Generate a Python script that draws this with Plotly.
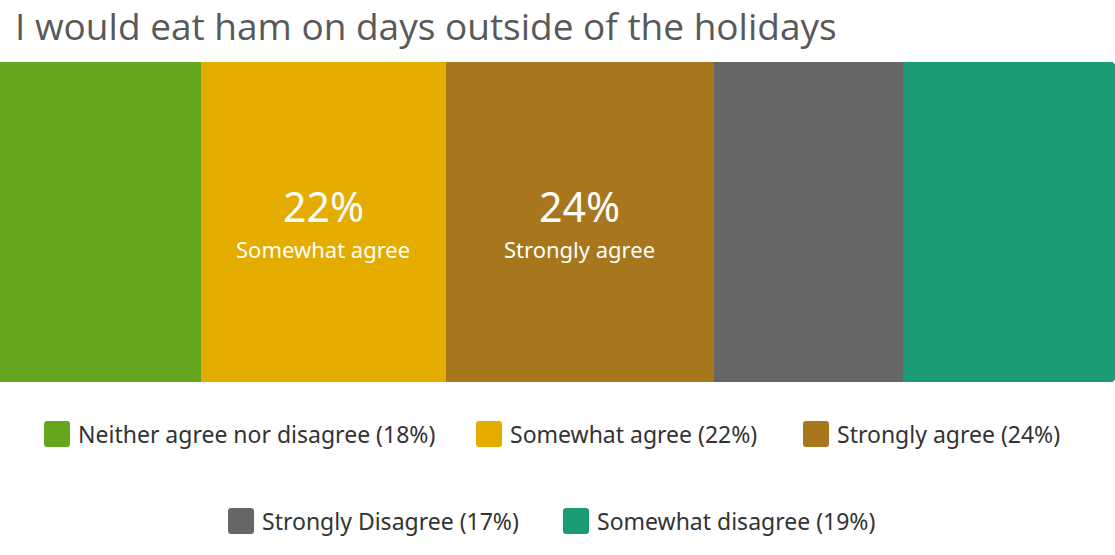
import plotly.graph_objects as go

# Survey responses, in stacking order
categories = ["Neither agree nor disagree", "Somewhat agree", "Strongly agree",
              "Strongly Disagree", "Somewhat disagree"]
percents = [18, 22, 24, 17, 19]
colors = ["#65A61F", "#E5AC00", "#A7761D", "#666666", "#1B9C77"]
# segments that carry an in-bar label
labelled = ["Somewhat agree", "Strongly agree"]

title_text = "I would eat ham on days outside of the holidays"

W, H = 1115, 555
BAR_TOP, BAR_BOTTOM = 62, 382
plot_h = BAR_BOTTOM - BAR_TOP


def rounded_square(x0, y0, size, r):
    """SVG path (pixel coords converted to paper) for a rounded legend swatch."""
    def px(x):
        return x / W

    def py(y):
        return (BAR_BOTTOM - y) / plot_h
    x1, y1 = x0 + size, y0 + size
    return (f"M {px(x0 + r)},{py(y0)} L {px(x1 - r)},{py(y0)} "
            f"Q {px(x1)},{py(y0)} {px(x1)},{py(y0 + r)} L {px(x1)},{py(y1 - r)} "
            f"Q {px(x1)},{py(y1)} {px(x1 - r)},{py(y1)} L {px(x0 + r)},{py(y1)} "
            f"Q {px(x0)},{py(y1)} {px(x0)},{py(y1 - r)} L {px(x0)},{py(y0 + r)} "
            f"Q {px(x0)},{py(y0)} {px(x0 + r)},{py(y0)} Z")


fig = go.Figure()
for cat, pct, col in zip(categories, percents, colors):
    fig.add_trace(go.Bar(
        x=[pct], y=["q"], orientation="h", name=cat,
        marker=dict(color=col, line=dict(width=0)),
        showlegend=False, hoverinfo="skip", width=1,
    ))

annotations = []
shapes = []

# in-bar labels at segment centres: big percentage over the category name
cum = 0
for cat, pct in zip(categories, percents):
    if cat in labelled:
        xc = cum + pct / 2
        annotations.append(dict(x=xc, y=0, xref="x", yref="y", text=f"{pct}%",
                                showarrow=False, yshift=16,
                                font=dict(family="Noto Sans", size=41, color="white")))
        annotations.append(dict(x=xc, y=0, xref="x", yref="y", text=cat,
                                showarrow=False, yshift=-27,
                                font=dict(family="Noto Sans", size=22, color="white")))
    cum += pct

# legend laid out in two centred rows
rows = [[0, 1, 2], [3, 4]]
row_left = [[44, 476, 803], [228, 563]]
row_y = [434, 521]
for r, idxs in enumerate(rows):
    yc = row_y[r]
    for j, i in enumerate(idxs):
        x0 = row_left[r][j]
        shapes.append(dict(type="path", xref="paper", yref="paper",
                           path=rounded_square(x0, yc - 13, 26, 3),
                           fillcolor=colors[i], line=dict(width=0)))
        annotations.append(dict(x=(x0 + 32) / W, y=(BAR_BOTTOM - yc) / plot_h,
                                xref="paper", yref="paper", xanchor="left", yanchor="middle",
                                text=f"{categories[i]} ({percents[i]}%)", showarrow=False,
                                font=dict(family="Noto Sans", size=23, color="#333333")))

fig.update_layout(
    width=W, height=H,
    barmode="stack", barcornerradius=4, bargap=0,
    margin=dict(l=0, r=0, t=BAR_TOP, b=H - BAR_BOTTOM),
    paper_bgcolor="white", plot_bgcolor="white",
    title=dict(text=title_text, x=15 / W, xanchor="left", y=1 - 27 / H, yanchor="middle",
               font=dict(family="Open Sans", size=37, color="#595959")),
    xaxis=dict(range=[0, 100], visible=False, fixedrange=True),
    yaxis=dict(range=[-0.5, 0.5], visible=False, fixedrange=True),
    annotations=annotations, shapes=shapes,
)

fig.write_html("out.html", config={"displayModeBar": False})
